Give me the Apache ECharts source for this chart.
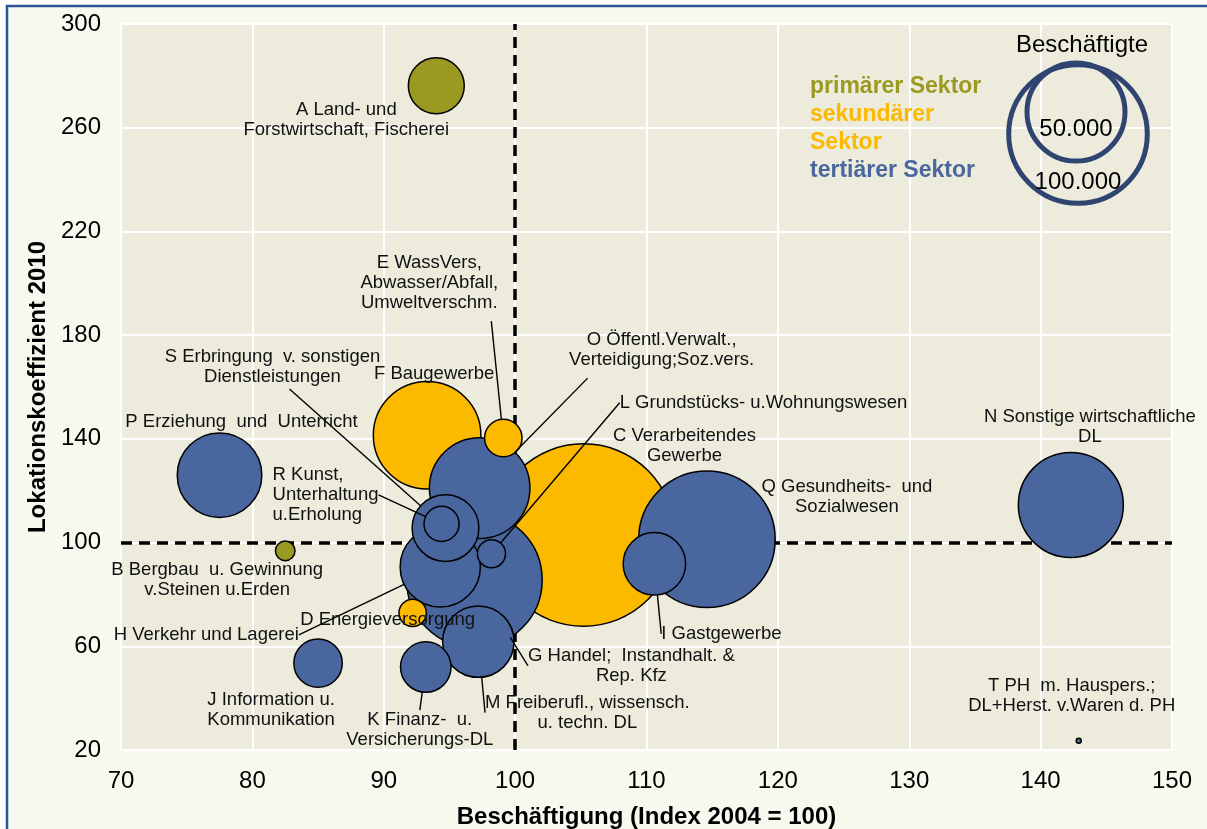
<!DOCTYPE html>
<html>
<head>
<meta charset="utf-8">
<title>Lokationskoeffizient und Beschäftigung</title>
<script src="https://cdn.jsdelivr.net/npm/echarts@6/dist/echarts.min.js"></script>
<style>
  html, body { margin: 0; padding: 0; background: #fff; }
  #chart { width: 1207px; height: 829px; }
</style>
</head>
<body>
<div id="chart"></div>
<script>
// Wirtschaftsabschnitte A..T
var codes = ['A', 'B', 'C', 'D', 'E', 'F', 'G', 'H', 'I', 'J', 'K', 'L', 'M', 'N', 'O', 'P', 'Q', 'R', 'S', 'T'];
var names = [
  'A Land- und\nForstwirtschaft, Fischerei',
  'B Bergbau  u. Gewinnung\nv.Steinen u.Erden',
  'C Verarbeitendes\nGewerbe',
  'D Energieversorgung',
  'E WassVers,\nAbwasser/Abfall,\nUmweltverschm.',
  'F Baugewerbe',
  'G Handel;  Instandhalt. &\nRep. Kfz',
  'H Verkehr und Lagerei',
  'I Gastgewerbe',
  'J Information u.\nKommunikation',
  'K Finanz-  u.\nVersicherungs-DL',
  'L Grundstücks- u.Wohnungswesen',
  'M Freiberufl., wissensch.\nu. techn. DL',
  'N Sonstige wirtschaftliche\nDL',
  'O Öffentl.Verwalt.,\nVerteidigung;Soz.vers.',
  'P Erziehung  und  Unterricht',
  'Q Gesundheits-  und\nSozialwesen',
  'R Kunst,\nUnterhaltung\nu.Erholung',
  'S Erbringung  v. sonstigen\nDienstleistungen',
  'T PH  m. Hauspers.;\nDL+Herst. v.Waren d. PH'
];
var sektor = ['primär', 'primär', 'sekundär', 'sekundär', 'sekundär', 'sekundär',
  'tertiär', 'tertiär', 'tertiär', 'tertiär', 'tertiär', 'tertiär', 'tertiär', 'tertiär',
  'tertiär', 'tertiär', 'tertiär', 'tertiär', 'tertiär', 'tertiär'];
// Beschäftigung (Index 2004 = 100)
var beschIndex = [94.0, 82.5, 105.2, 92.2, 99.1, 93.3, 96.9, 94.3, 110.6, 85.0,
  93.2, 98.2, 97.2, 142.3, 97.3, 77.5, 114.6, 94.4, 94.7, 142.9];
// Lokationskoeffizient 2010
var lokKoeff = [276.2, 96.8, 102.9, 72.9, 140.3, 141.4, 85.6, 90.6, 91.8, 53.5,
  52.0, 95.7, 61.8, 114.5, 121.0, 126.0, 101.3, 107.2, 105.6, 23.6];
// Beschäftigte (Blasengröße)
var beschaeftigte = [16300, 2000, 173400, 3900, 7300, 60200, 95600, 33500, 20300, 12200,
  13300, 4100, 26600, 57400, 52600, 37200, 97000, 6400, 23200, 130];
var legendValues = [50000, 100000];
var referenz = 100;

var fontFam = '"Liberation Sans", Arial, sans-serif';
var sektorFarbe = { 'primär': '#9a9a22', 'sekundär': '#fbb900', 'tertiär': '#4a669e' };
var labelLineHeight = 20;

// label placement: offset of the text centre from the bubble centre (px),
// pad = invisible box padding that steers where the leader line leaves the label
var labelPos = {
  A: { off: [-90, 34] },
  B: { off: [-68, 29] },
  C: { off: [101, -89] },
  D: { off: [-25, 7] },
  E: { off: [-74, -155], line: true, pad: [0, 124, 8, 0] },
  F: { off: [7, -61] },
  G: { off: [157, 86], line: true },
  H: { off: [-234, 68], line: true },
  I: { off: [67, 70], line: true },
  J: { off: [-47, 47] },
  K: { off: [-6, 63], line: true },
  L: { off: [272, -151], line: true },
  M: { off: [109, 71], line: true },
  N: { off: [19, -78] },
  O: { off: [182, -138], line: true, pad: [60, 0, 8, 148] },
  P: { off: [22, -53] },
  Q: { off: [140, -42] },
  R: { off: [-169, -29], align: 'left', line: true },
  S: { off: [-173, -161], line: true, pad: [120, 34, 2, 0] },
  T: { off: [-7, -45] }
};

var size50k = 98;
function bubbleSize(v) {
  return size50k * Math.sqrt(v / 50000);
}

// big bubbles first, small ones on top
var order = codes.map(function (c, i) { return i; }).sort(function (a, b) {
  return beschaeftigte[b] - beschaeftigte[a];
});

var seriesData = order.map(function (i) {
  var lp = labelPos[codes[i]];
  var label = { offset: lp.off, align: lp.align || 'center' };
  if (lp.pad) {
    // box anchored at its bottom edge, text kept where it belongs
    var p = lp.pad;
    var nLines = names[i].split('\n').length;
    label.padding = p;
    label.backgroundColor = 'rgba(0,0,0,0)';
    label.verticalAlign = 'bottom';
    label.offset = [lp.off[0] + (p[1] - p[3]) / 2, lp.off[1] + p[2] + nLines * labelLineHeight / 2];
  }
  return {
    name: names[i],
    value: [beschIndex[i], lokKoeff[i], beschaeftigte[i]],
    itemStyle: { color: sektorFarbe[sektor[i]] },
    label: label,
    labelLine: { show: !!lp.line }
  };
});

var chart = echarts.init(document.getElementById('chart'));

var option = {
  animation: false,
  backgroundColor: '#ffffff',
  textStyle: { fontFamily: fontFam },
  grid: {
    left: 121, right: 35, top: 24, bottom: 79,
    outerBoundsMode: 'none',
    show: true,
    backgroundColor: '#ecebdc',
    borderWidth: 0
  },
  xAxis: {
    type: 'value',
    min: 70, max: 150, interval: 10,
    name: 'Beschäftigung (Index 2004 = 100)',
    nameLocation: 'middle',
    nameGap: 55,
    nameTextStyle: { fontSize: 24, fontWeight: 'bold', color: '#000', fontFamily: fontFam },
    axisLine: { show: false },
    axisTick: { show: false },
    axisLabel: { fontSize: 24, color: '#000', margin: 19, fontFamily: fontFam },
    splitLine: { show: true, lineStyle: { color: '#ffffff', width: 2 } }
  },
  yAxis: {
    type: 'value',
    min: 20, max: 300, interval: 40,
    name: 'Lokationskoeffizient 2010',
    nameLocation: 'middle',
    nameGap: 67,
    nameTextStyle: { fontSize: 24, fontWeight: 'bold', color: '#000', fontFamily: fontFam },
    axisLine: { show: false },
    axisTick: { show: false },
    axisLabel: { fontSize: 24, color: '#000', margin: 20, fontFamily: fontFam },
    splitLine: { show: true, lineStyle: { color: '#ffffff', width: 2 } }
  },
  graphic: [
    {
      type: 'rect', z: -10, silent: true,
      shape: { x: 7, y: 6, width: 1240, height: 860 },
      style: { fill: '#f8f9ee', stroke: '#2a5597', lineWidth: 2.5 }
    },
    {
      type: 'circle', z: 50, silent: true, x: 1078, y: 134,
      shape: { r: bubbleSize(legendValues[1]) / 2 },
      style: { fill: 'none', stroke: '#2f4470', lineWidth: 5 }
    },
    {
      type: 'circle', z: 50, silent: true, x: 1076, y: 112,
      shape: { r: bubbleSize(legendValues[0]) / 2 },
      style: { fill: 'none', stroke: '#2f4470', lineWidth: 5 }
    },
    {
      type: 'text', z: 51, silent: true, x: 1082, y: 45,
      style: { text: 'Beschäftigte', font: '24px ' + fontFam, fill: '#000', align: 'center', verticalAlign: 'middle' }
    },
    {
      type: 'text', z: 51, silent: true, x: 1076, y: 129,
      style: { text: '50.000', font: '24px ' + fontFam, fill: '#000', align: 'center', verticalAlign: 'middle' }
    },
    {
      type: 'text', z: 51, silent: true, x: 1078, y: 182,
      style: { text: '100.000', font: '24px ' + fontFam, fill: '#000', align: 'center', verticalAlign: 'middle' }
    },
    {
      type: 'text', z: 51, silent: true, x: 810, y: 73,
      style: {
        text: '{p|primärer Sektor}\n{s|sekundärer}\n{s|Sektor}\n{t|tertiärer Sektor}',
        align: 'left', verticalAlign: 'top',
        rich: {
          p: { fontSize: 23, fontWeight: 'bold', fontFamily: fontFam, fill: sektorFarbe['primär'], color: sektorFarbe['primär'], lineHeight: 28 },
          s: { fontSize: 23, fontWeight: 'bold', fontFamily: fontFam, fill: sektorFarbe['sekundär'], color: sektorFarbe['sekundär'], lineHeight: 28 },
          t: { fontSize: 23, fontWeight: 'bold', fontFamily: fontFam, fill: sektorFarbe['tertiär'], color: sektorFarbe['tertiär'], lineHeight: 28 }
        }
      }
    }
  ],
  series: [
    {
      type: 'scatter',
      z: 2,
      data: seriesData,
      symbolSize: function (val) { return bubbleSize(val[2]); },
      itemStyle: { borderColor: '#000', borderWidth: 1.5, opacity: 1 },
      label: {
        show: true,
        position: 'inside',
        formatter: '{b}',
        fontSize: 18.5,
        lineHeight: labelLineHeight,
        color: '#111',
        fontFamily: fontFam,
        verticalAlign: 'middle'
      },
      labelLine: {
        showAbove: true,
        length2: 0,
        lineStyle: { color: '#000', width: 1.4 }
      },
      emphasis: { disabled: true },
      markLine: {
        silent: true,
        z: 1,
        symbol: 'none',
        label: { show: false },
        lineStyle: { color: '#000', type: [11, 7], width: 3.5 },
        data: [{ yAxis: referenz }, { xAxis: referenz }]
      }
    }
  ]
};

chart.setOption(option);
</script>
</body>
</html>
